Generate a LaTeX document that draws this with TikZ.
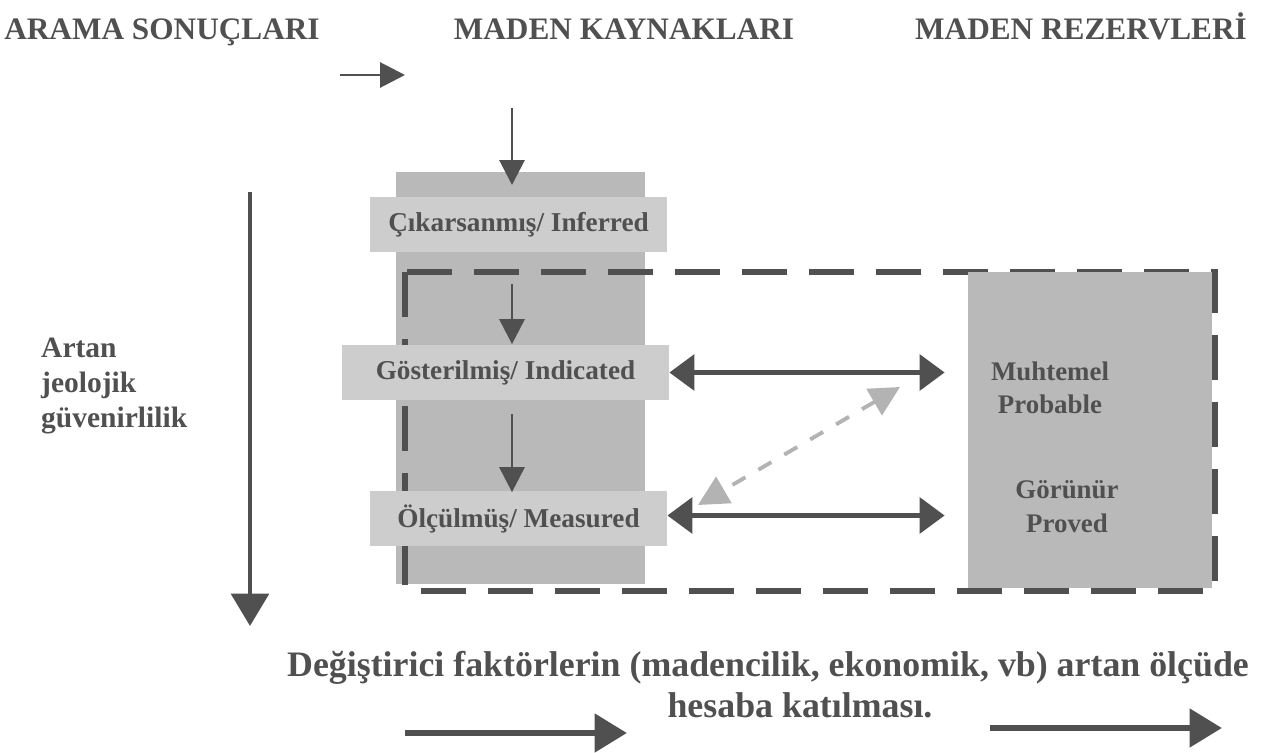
\documentclass[tikz,border=0pt]{standalone}
\usepackage{fontspec}
\setmainfont{Liberation Serif}
\usepackage{tikz}
\usetikzlibrary{arrows.meta, positioning, calc}
\definecolor{inkgray}{HTML}{505050}
\definecolor{colgray}{HTML}{B9B9B9}
\definecolor{boxgray}{HTML}{CDCDCD}
\definecolor{diaggray}{HTML}{B3B3B3}

\begin{document}
\begin{tikzpicture}[x=0.02cm, y=-0.02cm,
      every node/.style={text=inkgray, font=\bfseries},
      head/.style={anchor=base, font=\fontsize{17.8}{20}\selectfont\bfseries},
      column/.style={fill=colgray, minimum width=5cm, minimum height=8.26cm,
                     inner sep=0pt},
      label/.style={fill=boxgray, minimum height=1.12cm, inner sep=0pt,
                    font=\fontsize{15.5}{17}\selectfont\bfseries},
      res/.style={align=center, anchor=base, font=\fontsize{15.3}{19.3}\selectfont\bfseries},
      frame/.style={draw=inkgray, line width=3.4pt, dash pattern=on 0.9cm off 0.44cm},
      down/.style={-{Triangle[length=0.5cm, width=0.5cm]}, draw=inkgray, line width=1.7pt},
      dbl/.style={{Triangle[length=0.5cm, width=0.7cm]}-{Triangle[length=0.5cm, width=0.7cm]},
                  draw=inkgray, line width=3.4pt},
      big/.style={-{Triangle[length=0.65cm, width=0.75cm]}, draw=inkgray, line width=3.9pt}
    ]
    \useasboundingbox (0,0) rectangle (1272,753);

    % headings
    \node[head] (arama)   at (162,40)  {ARAMA SONUÇLARI};
    \node[head] (kaynak)  at (624,40)  {MADEN KAYNAKLARI};
    \node[head] (rezerv)  at (1081,40) {MADEN REZERVLERİ};

    % resources column and reserves box
    \node[column] (col) at (520.5,378) {};
    \draw[frame] (405,272) rectangle (1215,591);
    \node[fill=colgray, minimum width=4.88cm, minimum height=6.32cm, inner sep=0pt]
      (rez) at (1090,430) {};
    \node[label, minimum width=5.94cm] (inf) at (518.5,224.5) {Çıkarsanmış/ Inferred};
    \node[label, minimum width=6.54cm] (ind) at (505.5,372.5) {Gösterilmiş/ Indicated};
    \node[label, minimum width=5.94cm] (mea) at (518.5,518.5) {Ölçülmüş/ Measured};
    \node[res] (prob) at (1050,414) {Muhtemel\\Probable};
    \node[res] (prov) at (1067,532) {Görünür\\Proved};

    % arrows
    \coordinate (t1) at (340,75);
    \coordinate (t2) at (405,75);
    \coordinate (c0) at (512,108);
    \coordinate (c1) at (512,185);
    \draw[down] (t1) -- (t2);
    \draw[down] (c0) -- (c1);
    \draw[down] (512,284) -- (ind.north -| c0);
    \draw[down] (512,414) -- ($(mea.north -| c0)+(0,2)$);
    \draw[dbl, shorten >=0.46cm] (ind.east) -- (ind.east -| rez.west);
    \draw[dbl, shorten >=0.46cm] ($(mea.east)+(0,-3)$) -- ($(mea.east -| rez.west)+(0,-3)$);
    \coordinate (d1) at (900,387);
    \coordinate (d2) at (698,505);
    \draw[{Triangle[length=0.6cm, width=0.6cm]}-{Triangle[length=0.6cm, width=0.6cm]},
          draw=diaggray, line width=2.2pt, dash pattern=on 0.3cm off 0.3cm] (d1) -- (d2);

    % left side
    \coordinate (v1) at (250,192);
    \coordinate (v2) at (250,626);
    \draw[big, line width=2.8pt] (v1) -- (v2);
    \node[align=left, anchor=west, font=\fontsize{16.8}{19.8}\selectfont\bfseries]
      (guven) at (35,386) {Artan\\jeolojik\\güvenirlilik};

    % bottom
    \node[font=\fontsize{20.4}{24}\selectfont\bfseries] (degis) at (768,668)
      {Değiştirici faktörlerin (madencilik, ekonomik, vb) artan ölçüde};
    \node[anchor=base, font=\fontsize{20.4}{24}\selectfont\bfseries] (hesab) at (800,717)
      {hesaba katılması.};
    \coordinate (b1) at (405,733);
    \coordinate (b2) at (627,733);
    \coordinate (b3) at (990,728);
    \coordinate (b4) at (1222,728);
    \draw[big] (b1) -- (b2);
    \draw[big] (b3) -- (b4);
  \end{tikzpicture}
\end{document}
